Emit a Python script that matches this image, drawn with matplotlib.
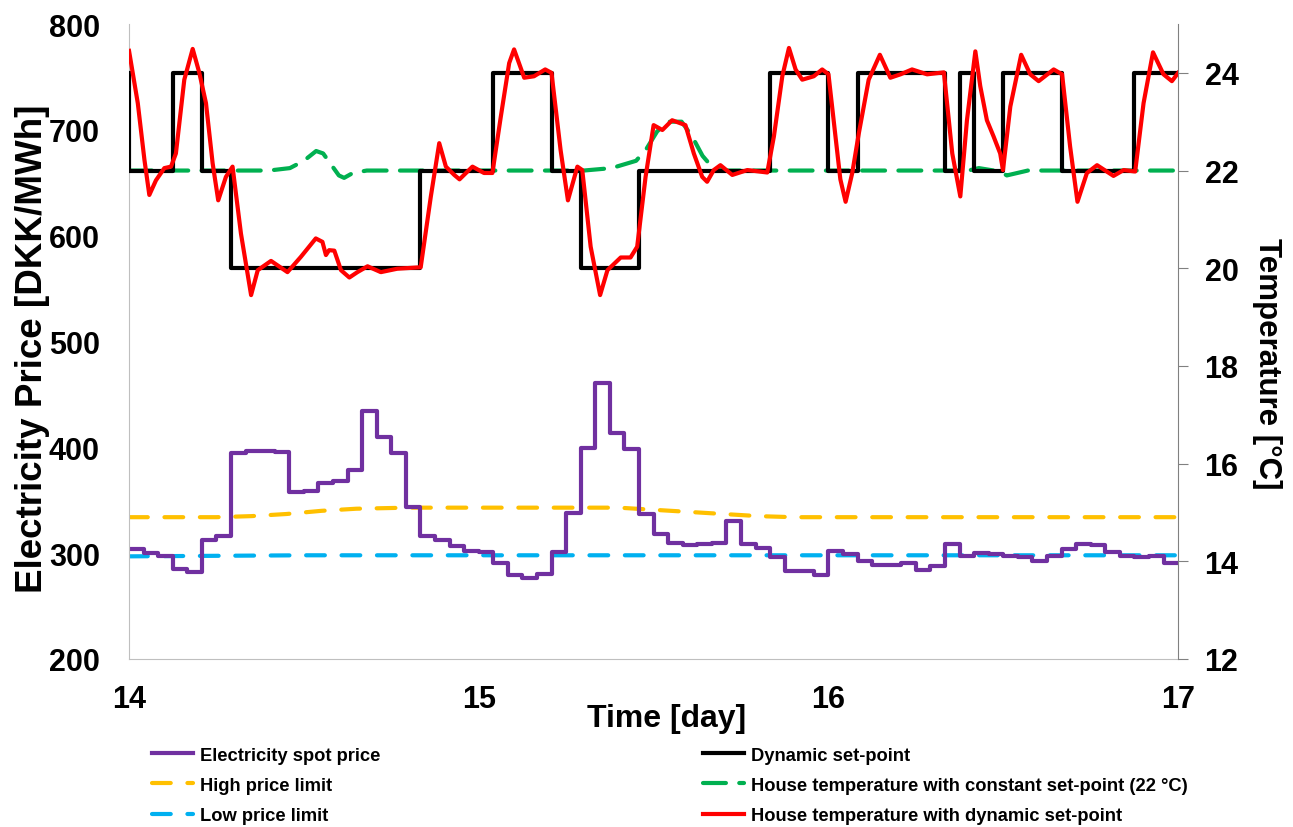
import numpy as np
import matplotlib
matplotlib.use('Agg')
import matplotlib.pyplot as plt

plt.rcParams['font.family'] = ['Liberation Sans', 'DejaVu Sans']
plt.rcParams['font.weight'] = 'bold'

# hourly electricity spot price [DKK/MWh], day 14 00:00 -> day 17 00:00
spot_price = [304, 300, 297, 285, 282, 312, 316, 395, 397, 397, 396, 358,
              359, 366, 368, 379, 434, 410, 395, 344, 316, 312, 307, 302,
              301, 291, 279, 277, 280, 301, 338, 399, 461, 414, 398, 337,
              318, 310, 308, 309, 310, 330, 309, 305, 296, 283, 283, 279,
              302, 299, 293, 289, 289, 291, 284, 288, 309, 297, 300, 299,
              297, 296, 293, 297, 304, 309, 308, 301, 297, 296, 297, 291]

# hourly dynamic set-point [degC]
setpoint = [22, 22, 22, 24, 24, 22, 22, 20, 20, 20, 20, 20,
            20, 20, 20, 20, 20, 20, 20, 20, 22, 22, 22, 22,
            22, 24, 24, 24, 24, 22, 22, 20, 20, 20, 20, 22,
            22, 22, 22, 22, 22, 22, 22, 22, 24, 24, 24, 24,
            22, 22, 24, 24, 24, 24, 24, 24, 22, 24, 22, 22,
            24, 24, 24, 24, 22, 22, 22, 22, 22, 24, 24, 24]
setpoint_start = 24

# price limits
high_t = [14.0, 14.25, 14.35, 14.45, 14.55, 14.65, 14.8, 15.0, 15.4, 15.5, 15.6, 15.7, 15.8, 15.9, 17.0]
high_limit = [334, 334, 335, 337, 340, 342, 343, 343, 343, 341, 339, 337, 335, 334, 334]
low_t = [14.0, 14.5, 15.0, 16.0, 17.0]
low_limit = [297, 298, 298, 298, 298]

# house temperature with constant set-point (22 degC)
const_t = [14.0, 14.40, 14.46, 14.50, 14.535, 14.555, 14.58, 14.60, 14.615, 14.64, 14.68,
           15.30, 15.38, 15.45, 15.48, 15.51, 15.54, 15.58, 15.61, 15.64, 15.67, 15.70,
           16.40, 16.43, 16.49, 16.51, 16.54, 16.57, 17.0]
const_temp = [22.0, 22.0, 22.05, 22.2, 22.4, 22.35, 22.1, 21.9, 21.85, 21.95, 22.0,
              22.0, 22.05, 22.2, 22.45, 22.8, 23.0, 23.0, 22.7, 22.3, 22.05, 22.0,
              22.0, 22.05, 21.98, 21.9, 21.95, 22.0, 22.0]

# house temperature with dynamic set-point
dyn_t = [14.000, 14.025, 14.044, 14.058, 14.077, 14.101, 14.120, 14.134, 14.158, 14.182,
         14.201, 14.220, 14.239, 14.255, 14.277, 14.296, 14.320, 14.349, 14.368, 14.406,
         14.453, 14.491, 14.534, 14.553, 14.563, 14.572, 14.587, 14.606, 14.630, 14.653,
         14.682, 14.720, 14.767, 14.834, 14.863, 14.887, 14.906, 14.930, 14.945, 14.982,
         15.015, 15.039, 15.063, 15.087, 15.101, 15.115, 15.130, 15.158, 15.190, 15.208,
         15.234, 15.255, 15.282, 15.296, 15.320, 15.347, 15.368, 15.406, 15.434, 15.453,
         15.477, 15.500, 15.525, 15.553, 15.591, 15.615, 15.639, 15.653, 15.672, 15.691,
         15.725, 15.768, 15.825, 15.844, 15.868, 15.887, 15.906, 15.925, 15.958, 15.982,
         16.000, 16.020, 16.034, 16.049, 16.068, 16.087, 16.115, 16.147, 16.177, 16.206,
         16.239, 16.282, 16.330, 16.354, 16.377, 16.396, 16.420, 16.434, 16.453, 16.472,
         16.491, 16.499, 16.520, 16.551, 16.577, 16.601, 16.644, 16.668, 16.691, 16.712,
         16.739, 16.768, 16.815, 16.844, 16.877, 16.901, 16.928, 16.958, 16.982, 17.000]
dyn_temp = [24.45, 23.38, 22.22, 21.50, 21.80, 22.05, 22.08, 22.35, 23.86, 24.49,
            24.00, 23.38, 22.15, 21.39, 21.87, 22.08, 20.71, 19.45, 19.96, 20.15,
            19.92, 20.23, 20.61, 20.54, 20.27, 20.37, 20.36, 19.96, 19.81, 19.92,
            20.04, 19.92, 19.99, 20.02, 21.47, 22.56, 22.08, 21.91, 21.82, 22.08,
            21.95, 21.95, 23.10, 24.20, 24.48, 24.20, 23.90, 23.93, 24.07, 24.00,
            22.42, 21.39, 22.08, 22.01, 20.44, 19.45, 19.96, 20.22, 20.22, 20.44,
            21.87, 22.93, 22.83, 23.03, 22.93, 22.35, 21.87, 21.77, 22.01, 22.11,
            21.91, 22.01, 21.96, 22.70, 23.93, 24.51, 24.07, 23.86, 23.93, 24.07,
            23.97, 22.70, 21.82, 21.36, 21.95, 22.77, 23.86, 24.37, 23.90, 23.97,
            24.07, 23.97, 24.01, 22.35, 21.47, 23.03, 24.44, 23.73, 23.03, 22.70,
            22.35, 22.01, 23.31, 24.37, 23.97, 23.83, 24.07, 23.97, 22.49, 21.36,
            21.95, 22.11, 21.89, 22.01, 21.98, 23.38, 24.42, 23.97, 23.83, 24.00]

# hourly time axis
hours = np.arange(len(spot_price))
t_hour = np.r_[14 + hours / 24.0, 17.0]

fig = plt.figure(figsize=(12.93, 8.28), dpi=100)
ax = fig.add_axes([0.0998, 0.2029, 0.8114, 0.7669])
ax2 = ax.twinx()

dash = dict(dashes=(4.5, 4), dash_capstyle='round')
l_high, = ax.plot(high_t, high_limit, color='#FFC000', lw=3, label='High price limit', **dash)
l_low, = ax.plot(low_t, low_limit, color='#00B0F0', lw=3, label='Low price limit', **dash)
l_spot, = ax.plot(t_hour, spot_price + [spot_price[-1]], color='#7030A0', lw=3,
                  drawstyle='steps-post', label='Electricity spot price')

l_const, = ax2.plot(const_t, const_temp, color='#00B050', lw=3,
                    label='House temperature with constant set-point (22 \u00b0C)',
                    dashes=(5.5, 3.2), dash_capstyle='round')
l_set, = ax2.plot(np.r_[14.0, t_hour], [setpoint_start] + setpoint + [setpoint[-1]],
                  color='black', lw=3, drawstyle='steps-post', label='Dynamic set-point')
l_dyn, = ax2.plot(dyn_t, dyn_temp, color='#FF0000', lw=3,
                  label='House temperature with dynamic set-point')

ax.set_xlim(14, 17)
ax.set_ylim(200, 800)
ax2.set_ylim(12, 25)
ax.set_xticks([14, 15, 16, 17])
ax.set_yticks(range(200, 801, 100))
ax2.set_yticks(range(12, 25, 2))

ax.tick_params(axis='both', length=0, labelsize=22, pad=21)
ax.tick_params(axis='x', pad=18)
ax2.tick_params(axis='y', length=7, color='#808080', labelsize=22, pad=12)

for s in ['top']:
    ax.spines[s].set_visible(False)
    ax2.spines[s].set_visible(False)
ax.spines['left'].set_color('#BFBFBF')
ax.spines['bottom'].set_color('#BFBFBF')
ax2.spines['left'].set_visible(False)
ax2.spines['bottom'].set_visible(False)
ax.spines['right'].set_visible(False)
ax2.spines['right'].set_color('#808080')

ax.set_xlabel('Time [day]', fontsize=23, fontweight='bold')
ax.xaxis.set_label_coords(0.512, -0.069)
ax.set_ylabel('Electricity Price [DKK/MWh]', fontsize=26.5, fontweight='bold')
ax.yaxis.set_label_coords(-0.075, 0.49)
ax2.set_ylabel('Temperature [\u00b0C]', fontsize=22.5, fontweight='bold', rotation=270)
ax2.yaxis.set_label_coords(1.099, 0.466)

handles = [l_spot, l_high, l_low, l_set, l_const, l_dyn]
fig.legend(handles=handles, labels=[h.get_label() for h in handles], ncol=2,
           loc='upper left', bbox_to_anchor=(0.1175, 0.097), frameon=False,
           prop={'size': 13.2, 'weight': 'bold'}, handlelength=2.25, handletextpad=0.38,
           columnspacing=17.6, labelspacing=0.72, borderaxespad=0, borderpad=0)

fig.savefig('out.png', dpi=100)
